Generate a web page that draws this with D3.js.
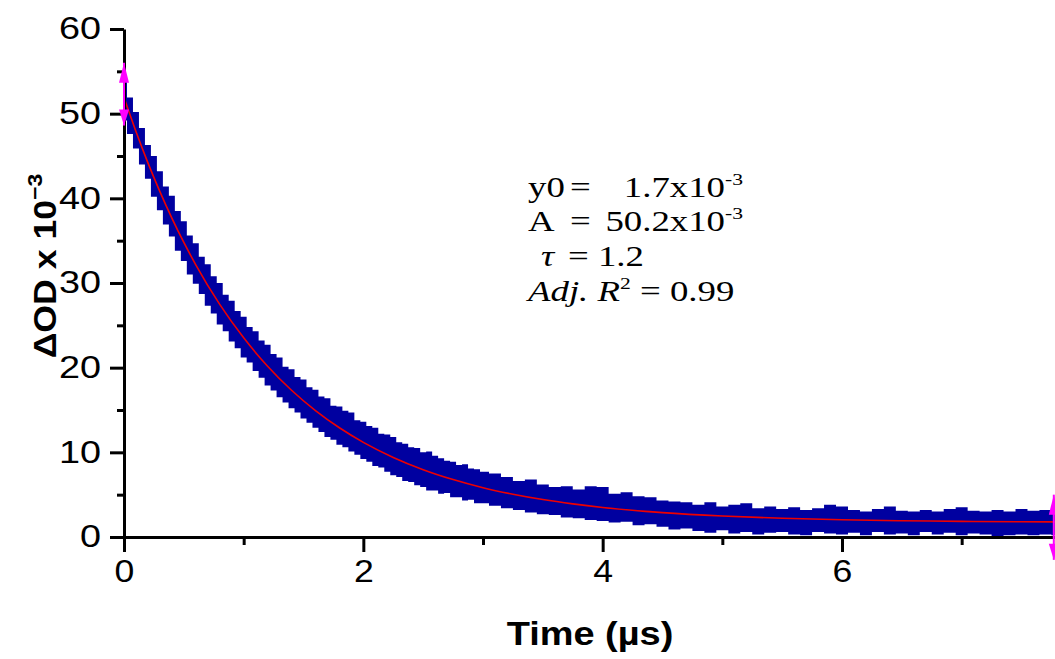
<!DOCTYPE html>
<html>
<head>
<meta charset="utf-8">
<script src="https://cdn.jsdelivr.net/npm/d3@7"></script>
<style>
body { margin: 0; background: #fff; }
svg { display: block; }
.sans { font-family: "Liberation Sans", Arial, sans-serif; }
.serif { font-family: "Liberation Serif", "Times New Roman", serif; }
</style>
</head>
<body>
<div id="chart"></div>
<script>
// decay trace: top / bottom of the scatter band at each time
var sampleTime = [0.00,0.05,0.10,0.15,0.20,0.25,0.30,0.35,0.40,0.45,0.50,0.55,0.60,0.65,0.70,0.75,0.80,0.85,0.90,0.95,
	1.00,1.05,1.10,1.15,1.20,1.25,1.30,1.35,1.40,1.45,1.50,1.55,1.60,1.65,1.70,1.75,1.80,1.85,1.90,1.95,
	2.00,2.05,2.10,2.15,2.20,2.25,2.30,2.35,2.40,2.45,2.50,2.55,2.60,2.65,2.70,2.75,2.80,2.85,2.90,2.95,
	3.0,3.1,3.2,3.3,3.4,3.5,3.6,3.7,3.8,3.9,4.0,4.1,4.2,4.3,4.4,4.5,4.6,4.7,4.8,4.9,
	5.0,5.1,5.2,5.3,5.4,5.5,5.6,5.7,5.8,5.9,6.0,6.1,6.2,6.3,6.4,6.5,6.6,6.7,6.8,6.9,
	7.0,7.1,7.2,7.3,7.4,7.5,7.6,7.7,7.8];
var odHigh = [54.0,51.9,50.2,48.3,46.3,45.0,43.2,41.4,40.3,38.5,37.3,35.6,34.7,33.1,32.2,30.8,30.0,28.6,27.9,26.7,
	26.0,24.8,24.3,23.2,22.7,21.6,21.2,20.1,19.8,18.9,18.6,17.7,17.4,16.6,16.4,15.5,15.4,14.9,14.7,13.8,
	13.6,13.1,12.9,12.2,12.1,11.8,11.2,11.0,10.6,10.5,10.0,10.1,9.6,9.3,9.0,8.9,8.5,8.6,8.1,8.0,
	7.7,7.5,7.1,6.6,6.8,6.2,5.9,6.0,5.6,6.0,5.9,5.1,5.3,4.8,4.7,4.3,4.2,4.1,3.8,4.1,
	3.6,3.8,4.0,3.4,3.6,3.3,3.5,3.2,3.4,3.8,3.6,3.2,3.0,3.3,3.6,3.1,3.0,3.2,3.0,3.3,
	3.5,3.1,3.0,3.2,3.0,3.3,3.1,3.2,3.1];
var odLow = [49.2,47.6,45.9,44.0,42.3,40.2,38.6,36.9,35.5,33.8,32.6,31.0,29.9,28.7,27.3,26.4,25.1,24.3,23.1,22.3,
	21.2,20.6,19.6,18.8,17.9,17.3,16.5,15.9,15.2,14.7,14.0,13.5,12.9,12.4,11.8,11.5,10.9,10.6,10.1,9.7,
	9.2,8.9,8.4,8.2,7.7,7.3,7.1,6.6,6.5,6.1,5.9,5.5,5.5,5.1,5.2,4.7,4.7,4.3,4.4,4.0,
	4.0,3.7,3.4,3.2,2.9,2.7,2.6,2.3,2.2,2.0,1.9,1.7,1.8,1.4,1.5,1.2,0.9,1.0,0.7,0.5,
	0.8,0.4,0.6,0.3,0.5,0.6,0.3,0.2,0.6,0.4,0.3,0.5,0.2,0.6,0.3,0.4,0.2,0.6,0.3,0.5,
	0.2,0.4,0.3,0.1,0.2,0.3,0.2,0.3,0.2];

// red fit curve
var fitTime = [0,0.1,0.2,0.3,0.4,0.5,0.6,0.8,1.0,1.2,1.4,1.6,1.8,2.0,2.25,2.5,2.75,3.0,3.25,3.5,3.75,4.0,4.5,5.0,5.5,6.0,6.5,7.0,7.5,7.78];
var fitOD = [51.9,47.89,44.19,40.8,37.67,34.79,32.15,27.47,23.52,20.17,17.33,14.93,12.9,11.18,9.4,7.95,6.78,5.82,5.05,4.42,3.91,3.49,2.88,2.48,2.21,2.04,1.92,1.85,1.8,1.78];

// pink markers at both ends
var cursorTime = [0, 7.77];
var cursorLow = [48.6, -2.7];
var cursorHigh = [56.0, 5.0];

var xTicks = [0,1,2,3,4,5,6,7];
var yTicks = [0,5,10,15,20,25,30,35,40,45,50,55,60];

var fitLines = [
	{lab: "y0", val: "1.7x10", sup: "-3"},
	{lab: "A", val: "50.2x10", sup: "-3"}
];

var W = 1055, H = 659;
var sx = 1.15; // text in the picture is drawn a bit wide
var sxNote = 1.27;

var svg = d3.select("#chart").append("svg")
	.attr("width", W)
	.attr("height", H);

var x = d3.scaleLinear().domain([0, 7.78]).range([124, 1055]);
var y = d3.scaleLinear().domain([0, 60]).range([537, 29]);

// scatter band
var band = d3.area()
	.x(function(d){ return x(d); })
	.y0(function(d, i){ return y(odLow[i]); })
	.y1(function(d, i){ return y(odHigh[i]); })
	.curve(d3.curveStep);
svg.append("path")
	.attr("d", band(sampleTime))
	.attr("fill", "#0000a0");

// fit
var line = d3.line()
	.x(function(d, i){ return x(fitTime[i]); })
	.y(function(d){ return y(d); })
	.curve(d3.curveMonotoneX);
svg.append("path")
	.attr("d", line(fitOD))
	.attr("fill", "none")
	.attr("stroke", "#ee0000")
	.attr("stroke-width", 1.6);

// axes
var xAxis = d3.axisBottom(x)
	.tickValues(xTicks)
	.tickSize(15)
	.tickSizeOuter(0)
	.tickPadding(8)
	.tickFormat(function(d){ return d % 2 == 0 ? d : ""; });
var gx = svg.append("g")
	.attr("transform", "translate(0," + y(0) + ")")
	.call(xAxis);
gx.selectAll(".tick line").filter(function(d){ return d % 2 != 0; }).attr("y2", 8);

var yAxis = d3.axisLeft(y)
	.tickValues(yTicks)
	.tickSize(14)
	.tickSizeOuter(0)
	.tickFormat(function(d){ return d % 10 == 0 ? d : ""; });
var gy = svg.append("g")
	.attr("transform", "translate(" + x(0) + ",0)")
	.call(yAxis);
gy.selectAll(".tick line").filter(function(d){ return d % 10 != 0; }).attr("x2", -7);

[gx, gy].forEach(function(g){
	g.attr("font-family", null).attr("font-size", null);
	g.select(".domain").attr("stroke", "#000").attr("stroke-width", 3);
	g.selectAll(".tick line").attr("stroke", "#000").attr("stroke-width", 3);
	g.selectAll("text")
		.attr("class", "sans")
		.style("font-size", "31px")
		.attr("fill", "#000");
});
gy.selectAll("text").attr("x", -23 / 1.22).attr("transform", "scale(1.22,1)");
gx.selectAll("text").attr("transform", "scale(" + sx + ",1)");

// pink cursors
var cur = svg.append("g").attr("fill", "#ff00ff").attr("stroke", "#ff00ff");
cursorTime.forEach(function(t, i){
	var cx = x(t), top = y(cursorHigh[i]), bot = y(cursorLow[i]);
	cur.append("line").attr("x1", cx).attr("x2", cx).attr("y1", top).attr("y2", bot).attr("stroke-width", 2);
	cur.append("path").attr("stroke", "none")
		.attr("d", "M" + cx + "," + top + "L" + (cx - 5) + "," + (top + 20) + "L" + (cx + 5) + "," + (top + 20) + "Z");
	cur.append("path").attr("stroke", "none")
		.attr("d", "M" + cx + "," + bot + "L" + (cx - 5) + "," + (bot - 16) + "L" + (cx + 5) + "," + (bot - 16) + "Z");
});

// axis titles
var yt = svg.append("g")
	.attr("transform", "translate(56,266) rotate(-90) scale(" + sx + ",1)")
	.append("text")
	.attr("class", "sans")
	.attr("text-anchor", "middle")
	.style("font-size", "31px")
	.style("font-weight", "bold");
yt.append("tspan").text("\u0394OD x 10");
yt.append("tspan").style("font-size", "20px").attr("dy", -14).text("\u22123");

svg.append("g")
	.attr("transform", "translate(590,645) scale(" + sx + ",1)")
	.append("text")
	.attr("class", "sans")
	.attr("text-anchor", "middle")
	.style("font-size", "33px")
	.style("font-weight", "bold")
	.text("Time (\u00B5s)");

// fit results
function serif(px, py, anchor){
	return svg.append("g")
		.attr("transform", "translate(" + px + "," + py + ") scale(" + sxNote + ",1)")
		.append("text")
		.attr("class", "serif")
		.attr("text-anchor", anchor || "start")
		.style("font-size", "29px")
		.attr("fill", "#000");
}
var base = [197, 231, 266, 301];
fitLines.forEach(function(d, i){
	serif(528, base[i]).text(d.lab);
	serif(570, base[i]).text("=");
	var v = serif(743, base[i], "end");
	v.append("tspan").text(d.val);
	v.append("tspan").style("font-size", "17px").attr("dy", -12).text(d.sup);
});
serif(541, base[2]).style("font-style", "italic").text("\u03C4");
serif(568, base[2]).text("= 1.2");
var r2 = serif(528, base[3]);
r2.append("tspan").style("font-style", "italic").text("Adj. R");
r2.append("tspan").style("font-size", "17px").attr("dy", -12).text("2");
r2.append("tspan").attr("dy", 12).text(" = 0.99");
</script>
</body>
</html>
